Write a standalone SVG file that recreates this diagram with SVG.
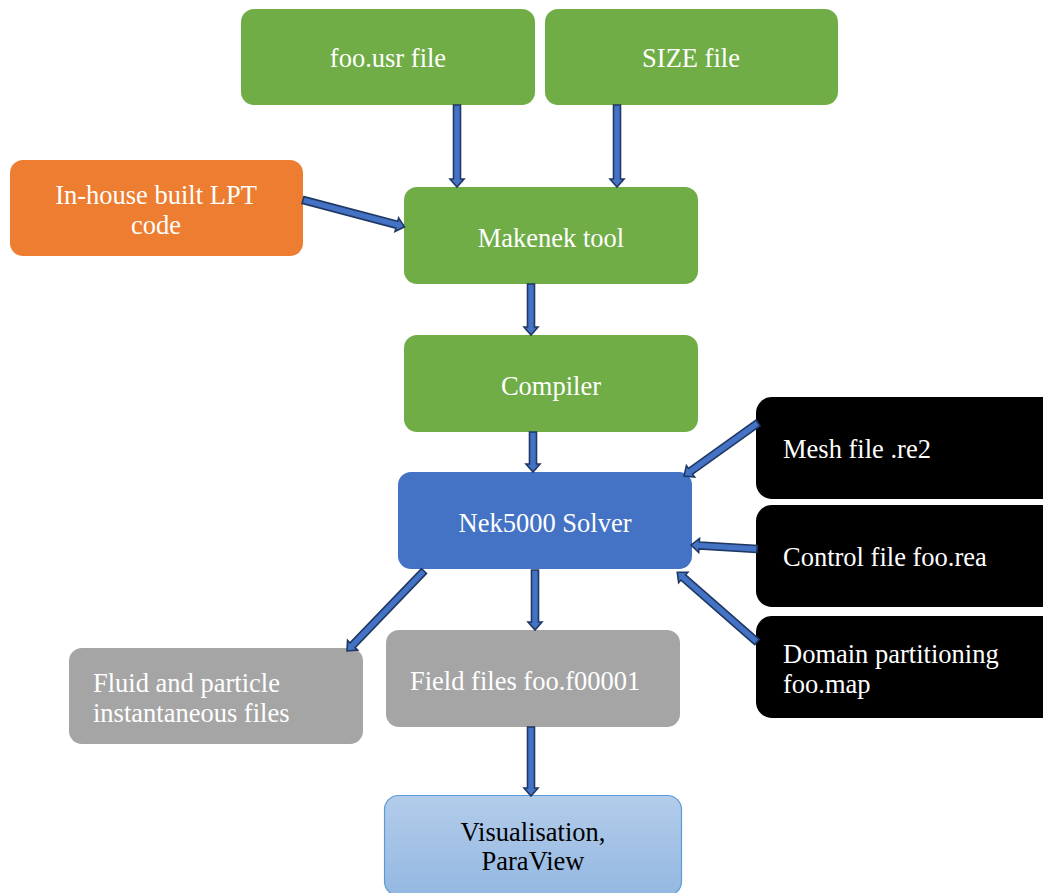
<svg xmlns="http://www.w3.org/2000/svg" width="1043" height="893" viewBox="0 0 1043 893">
<defs>
<linearGradient id="vg" x1="0" y1="0" x2="0" y2="1">
<stop offset="0" stop-color="#B3CCEA"/>
<stop offset="1" stop-color="#94B8E2"/>
</linearGradient>
</defs>
<rect width="1043" height="893" fill="#fff"/>
<g font-family="Liberation Serif" font-size="26.5" fill="#fff">
<g id="n-usr"><rect fill="#70AD47" x="241" y="9" width="294" height="96" rx="13"/><text text-anchor="middle" x="388" y="67">foo.usr file</text></g>
<g id="n-size"><rect fill="#70AD47" x="545" y="9" width="293" height="96" rx="13"/><text text-anchor="middle" x="691" y="67">SIZE file</text></g>
<g id="n-lpt"><rect fill="#ED7D31" x="10" y="160" width="293" height="96" rx="13"/><text text-anchor="middle" x="156" y="204">In-house built LPT</text><text text-anchor="middle" x="156" y="234">code</text></g>
<g id="n-makenek"><rect fill="#70AD47" x="404" y="187" width="294" height="97" rx="13"/><text text-anchor="middle" x="551" y="247">Makenek tool</text></g>
<g id="n-compiler"><rect fill="#70AD47" x="404" y="335" width="294" height="97" rx="13"/><text text-anchor="middle" x="551" y="395">Compiler</text></g>
<g id="n-nek"><rect fill="#4472C4" x="398" y="472" width="294" height="97" rx="13"/><text text-anchor="middle" x="545" y="532">Nek5000 Solver</text></g>
<g id="n-mesh"><rect fill="#000" x="756" y="397" width="310" height="102" rx="16"/><text x="783" y="458">Mesh file .re2</text></g>
<g id="n-control"><rect fill="#000" x="756" y="505" width="310" height="102" rx="16"/><text x="783" y="566">Control file foo.rea</text></g>
<g id="n-domain"><rect fill="#000" x="756" y="616" width="310" height="102" rx="16"/><text x="783" y="663">Domain partitioning</text><text x="783" y="693">foo.map</text></g>
<g id="n-fluid"><rect fill="#A5A5A5" x="69" y="648" width="294" height="96" rx="13"/><text x="93" y="692">Fluid and particle</text><text x="93" y="722">instantaneous files</text></g>
<g id="n-field"><rect fill="#A5A5A5" x="386" y="630" width="294" height="97" rx="13"/><text x="410" y="690">Field files foo.f00001</text></g>
<g id="n-vis"><rect x="384.5" y="795.5" width="297" height="100" rx="14" fill="url(#vg)" stroke="#5B9BD5" stroke-width="1.2"/><text fill="#000" text-anchor="middle" x="533" y="841">Visualisation,</text><text fill="#000" text-anchor="middle" x="533" y="870">ParaView</text></g>
</g>
<g id="connectors" fill="#4472C4" stroke="#1F3864" stroke-width="1.6">
<polygon transform="translate(457,105) rotate(90)" points="0,-3.5 74,-3.5 74,-7 82,0 74,7 74,3.5 0,3.5"/>
<polygon transform="translate(617,105) rotate(90)" points="0,-3.5 74,-3.5 74,-7 82,0 74,7 74,3.5 0,3.5"/>
<polygon transform="translate(303,200) rotate(14.8)" points="0,-3.5 97,-3.5 97,-7 105,0 97,7 97,3.5 0,3.5"/>
<polygon transform="translate(531,284) rotate(90)" points="0,-3.5 43,-3.5 43,-7 51,0 43,7 43,3.5 0,3.5"/>
<polygon transform="translate(533,432) rotate(90)" points="0,-3.5 32,-3.5 32,-7 40,0 32,7 32,3.5 0,3.5"/>
<polygon transform="translate(758,423) rotate(144.4)" points="0,-3.5 83,-3.5 83,-7 91,0 83,7 83,3.5 0,3.5"/>
<polygon transform="translate(757,549) rotate(183.5)" points="0,-3.5 58,-3.5 58,-7 66,0 58,7 58,3.5 0,3.5"/>
<polygon transform="translate(757,642) rotate(221.2)" points="0,-3.5 98,-3.5 98,-7 106,0 98,7 98,3.5 0,3.5"/>
<polygon transform="translate(424,571) rotate(133.9)" points="0,-3.5 103,-3.5 103,-7 111,0 103,7 103,3.5 0,3.5"/>
<polygon transform="translate(535,570) rotate(90)" points="0,-3.5 52,-3.5 52,-7 60,0 52,7 52,3.5 0,3.5"/>
<polygon transform="translate(531,727) rotate(90)" points="0,-3.5 61,-3.5 61,-7 69,0 61,7 61,3.5 0,3.5"/>
</g>
</svg>
